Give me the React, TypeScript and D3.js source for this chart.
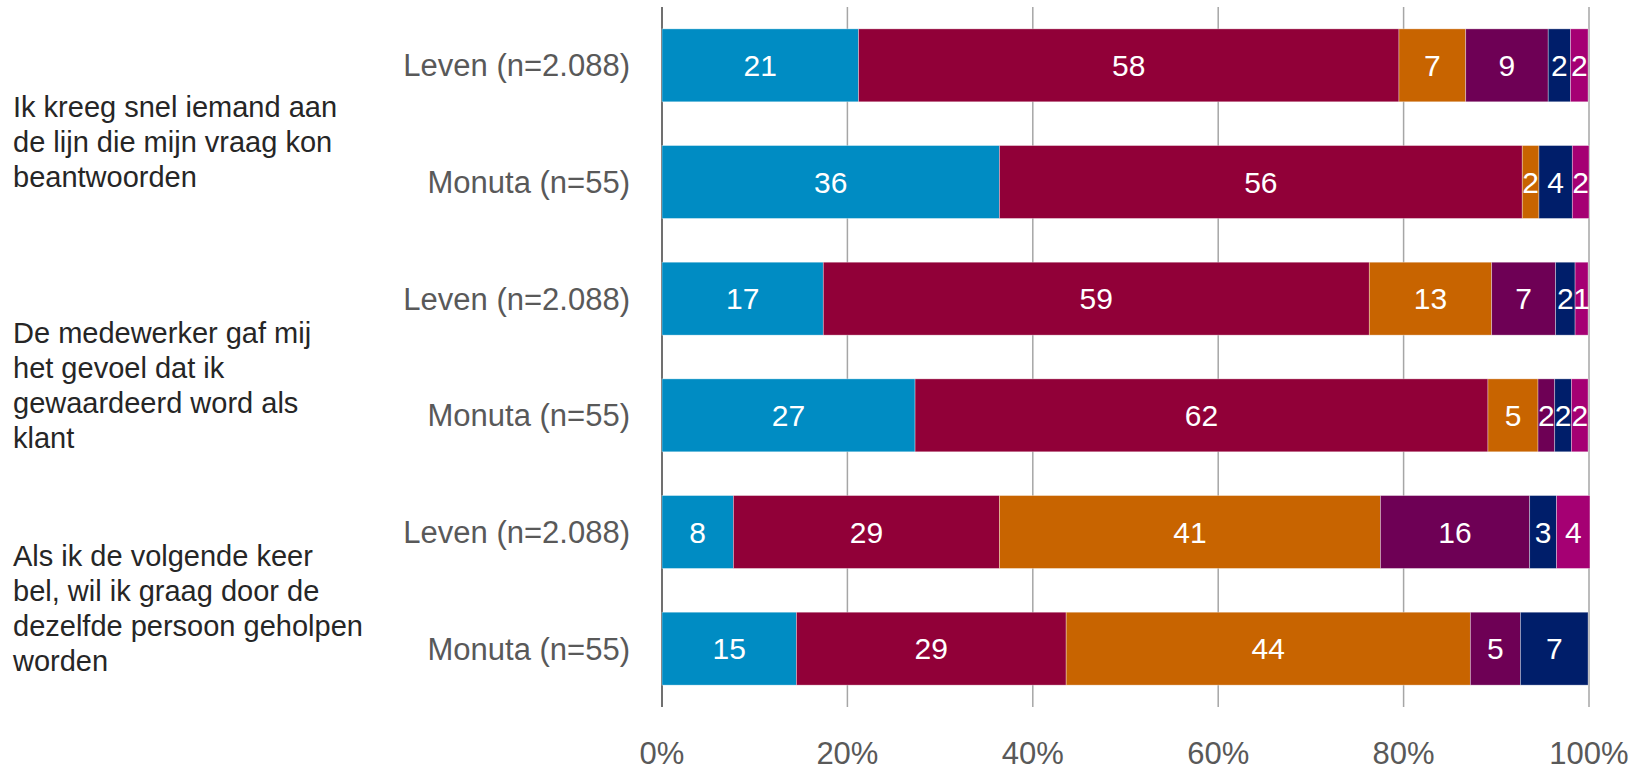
import * as d3 from "d3";
import { useEffect, useRef } from "react";

const rows = [
  "Leven (n=2.088)",
  "Monuta (n=55)",
  "Leven (n=2.088) ",
  "Monuta (n=55) ",
  "Leven (n=2.088)  ",
  "Monuta (n=55)  ",
];

const groups = [
  ["Ik kreeg snel iemand aan", "de lijn die mijn vraag kon", "beantwoorden"],
  ["De medewerker gaf mij", "het gevoel dat ik", "gewaardeerd word als", "klant"],
  ["Als ik de volgende keer", "bel, wil ik graag door de", "dezelfde persoon geholpen", "worden"],
];

// percentages per answer category, one entry per row
const s1 = [21.2, 36.4, 17.4, 27.3, 7.7, 14.5];
const s2 = [58.3, 56.4, 58.9, 61.8, 28.7, 29.1];
const s3 = [7.2, 1.8, 13.2, 5.4, 41.1, 43.6];
const s4 = [8.9, 0, 6.9, 1.8, 16.1, 5.4];
const s5 = [2.4, 3.6, 2.1, 1.8, 2.9, 7.3];
const s6 = [1.9, 1.8, 1.4, 1.8, 3.6, 0];

const seriesValues = [s1, s2, s3, s4, s5, s6];
const colors = ["#008cc3", "#910038", "#c86400", "#6e0055", "#001e6a", "#a50073"];

const xTicks = [0, 20, 40, 60, 80, 100];

export default function App() {
  const ref = useRef<SVGSVGElement | null>(null);

  useEffect(() => {
    const el = ref.current;
    if (!el) return;
    const svg = d3.select(el);
    svg.selectAll("*").remove();

    const W = 1645;
    const H = 771;
    const font = "'Liberation Sans', Arial, sans-serif";
    const left = 662;
    const right = 1589;
    const top = 7;
    const bottom = 707;

    const x = d3.scaleLinear().domain([0, 100]).range([left, right]);
    const y = d3
      .scaleBand()
      .domain(rows)
      .range([top, bottom])
      .paddingInner(0.375)
      .paddingOuter(0.1875);

    svg.attr("viewBox", `0 0 ${W} ${H}`).attr("width", W).attr("height", H);

    // gridlines
    svg
      .append("g")
      .selectAll("line")
      .data(xTicks)
      .join("line")
      .attr("x1", (d) => x(d))
      .attr("x2", (d) => x(d))
      .attr("y1", top)
      .attr("y2", bottom)
      .attr("stroke", (d) => (d === 0 ? "#404040" : "#a6a6a6"))
      .attr("stroke-width", 1.5);

    const stacked = rows.map((r, i) => {
      let acc = 0;
      return seriesValues.map((s, k) => {
        const v = s[i];
        const seg = { row: r, k, v, x0: acc, x1: acc + v };
        acc += v;
        return seg;
      });
    });
    const segs = stacked.flat().filter((d) => d.v > 0);

    svg
      .append("g")
      .selectAll("rect")
      .data(segs)
      .join("rect")
      .attr("x", (d) => x(d.x0))
      .attr("width", (d) => x(d.x1) - x(d.x0))
      .attr("y", (d) => y(d.row) ?? 0)
      .attr("height", y.bandwidth())
      .attr("fill", (d) => colors[d.k])
      .attr("stroke", "rgba(255,255,255,0.45)")
      .attr("stroke-width", 0.75);

    svg
      .append("g")
      .selectAll("text")
      .data(segs)
      .join("text")
      .attr("x", (d) => x((d.x0 + d.x1) / 2))
      .attr("y", (d) => (y(d.row) ?? 0) + y.bandwidth() / 2)
      .attr("dy", "0.36em")
      .attr("text-anchor", "middle")
      .attr("fill", "#fff")
      .attr("font-family", font)
      .attr("font-size", 30)
      .text((d) => Math.round(d.v));

    // row labels
    svg
      .append("g")
      .selectAll("text")
      .data(rows)
      .join("text")
      .attr("x", 630)
      .attr("y", (d) => (y(d) ?? 0) + y.bandwidth() / 2)
      .attr("dy", "0.36em")
      .attr("text-anchor", "end")
      .attr("fill", "#595959")
      .attr("font-family", font)
      .attr("font-size", 31)
      .text((d) => d.trim());

    // group labels
    const lineH = 35;
    const shift = [18, 28, 18];
    groups.forEach((lines, gi) => {
      const a = (y(rows[gi * 2]) ?? 0) + y.bandwidth() / 2;
      const b = (y(rows[gi * 2 + 1]) ?? 0) + y.bandwidth() / 2;
      const c = (a + b) / 2 + shift[gi];
      const first = c - ((lines.length - 1) * lineH) / 2;
      svg
        .append("text")
        .attr("font-family", font)
        .attr("font-size", 29)
        .attr("fill", "#262626")
        .selectAll("tspan")
        .data(lines)
        .join("tspan")
        .attr("x", 13)
        .attr("y", (_, j) => first + j * lineH)
        .attr("dy", "0.36em")
        .text((d) => d);
    });

    // x tick labels
    svg
      .append("g")
      .selectAll("text")
      .data(xTicks)
      .join("text")
      .attr("x", (d) => x(d))
      .attr("y", 764)
      .attr("text-anchor", "middle")
      .attr("fill", "#595959")
      .attr("font-family", font)
      .attr("font-size", 31)
      .text((d) => `${d}%`);
  }, []);

  return (
    <svg
      ref={ref}
      style={{ position: "absolute", left: 0, top: 0, display: "block" }}
    />
  );
}
